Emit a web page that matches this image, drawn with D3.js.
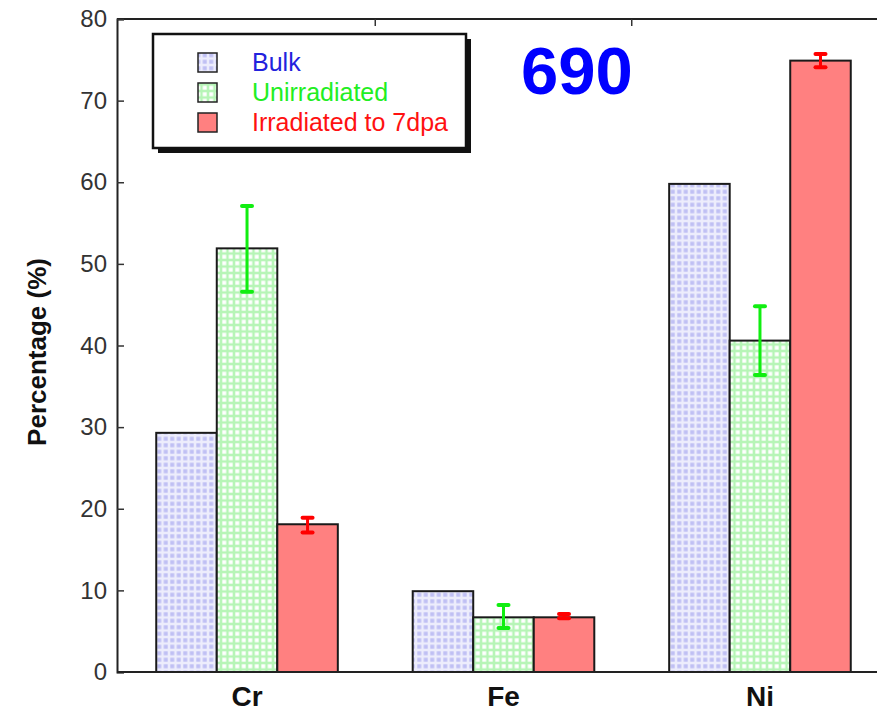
<!DOCTYPE html>
<html>
<head>
<meta charset="utf-8">
<script src="https://cdn.jsdelivr.net/npm/d3@7"></script>
<style>
  html, body { margin: 0; padding: 0; background: #fff; }
  svg { display: block; }
  text { font-family: "Liberation Sans", Arial, sans-serif; }
</style>
</head>
<body>
<div id="chart"></div>
<script>
const categories = ["Cr", "Fe", "Ni"];
const seriesNames = ["Bulk", "Unirradiated", "Irradiated to 7dpa"];
const bulkValues = [29.3, 9.9, 59.8];
const unirradiatedValues = [51.9, 6.7, 40.6];
const irradiatedValues = [18.1, 6.7, 74.9];
const unirradiatedErrLow = [46.6, 5.4, 36.4];
const unirradiatedErrHigh = [57.1, 8.2, 44.8];
const irradiatedErrLow = [17.1, 6.6, 74.1];
const irradiatedErrHigh = [18.9, 7.1, 75.7];
const yTicks = [0, 10, 20, 30, 40, 50, 60, 70, 80];
const labelText = "690";
const yTitle = "Percentage (%)";

(function () {
const W = 877, H = 711;
const mLeft = 117, mTop = 19, mBottom = 672, plotRight = 890;

const svg = d3.select("#chart").append("svg").attr("width", W).attr("height", H);
const defs = svg.append("defs");

const pb = defs.append("pattern").attr("id", "pBulk").attr("patternUnits", "userSpaceOnUse")
  .attr("width", 6.5).attr("height", 6.5);
pb.append("rect").attr("width", 6.5).attr("height", 6.5).attr("fill", "#ededfc");
pb.append("rect").attr("x", 1.25).attr("y", 1.25).attr("width", 4).attr("height", 4).attr("fill", "#c0c0f4");
const pu = defs.append("pattern").attr("id", "pUnirr").attr("patternUnits", "userSpaceOnUse")
  .attr("width", 6.5).attr("height", 6.5);
pu.append("rect").attr("width", 6.5).attr("height", 6.5).attr("fill", "#b6f5b6");
pu.append("rect").attr("x", 1.25).attr("y", 1.25).attr("width", 4).attr("height", 4).attr("fill", "#ffffff");

const fills = ["url(#pBulk)", "url(#pUnirr)", "#ff8080"];
const errColors = [null, "#11ee11", "#ff0000"];

const x0 = d3.scaleBand().domain(categories).range([mLeft, plotRight])
  .paddingInner(0.292).paddingOuter(0.153);
const x1 = d3.scaleBand().domain(seriesNames).range([0, x0.bandwidth()]).padding(0);
const y = d3.scaleLinear().domain([0, 80]).range([mBottom, mTop]);

const seriesValues = [bulkValues, unirradiatedValues, irradiatedValues];
const errLow = [null, unirradiatedErrLow, irradiatedErrLow];
const errHigh = [null, unirradiatedErrHigh, irradiatedErrHigh];

svg.append("line").attr("x1", mLeft).attr("x2", W).attr("y1", mTop).attr("y2", mTop)
  .attr("stroke", "#222").attr("stroke-width", 2);
const boundaries = [x0("Cr") + x0.bandwidth() + (x0.step() - x0.bandwidth()) / 2,
                    x0("Fe") + x0.bandwidth() + (x0.step() - x0.bandwidth()) / 2];
svg.selectAll(".btick").data(boundaries).join("line")
  .attr("x1", d => d).attr("x2", d => d).attr("y1", mTop).attr("y2", mTop + 7)
  .attr("stroke", "#333").attr("stroke-width", 1.5);

seriesNames.forEach((s, si) => {
  svg.append("g").selectAll("rect").data(categories).join("rect")
    .attr("x", c => x0(c) + x1(s))
    .attr("y", (c, i) => y(seriesValues[si][i]))
    .attr("width", x1.bandwidth())
    .attr("height", (c, i) => y(0) - y(seriesValues[si][i]))
    .attr("fill", fills[si])
    .attr("stroke", "#1a1a1a").attr("stroke-width", 2);
});

[1, 2].forEach(si => {
  const s = seriesNames[si];
  const g = svg.append("g").attr("stroke", errColors[si]).attr("stroke-linecap", "round");
  categories.forEach((c, i) => {
    const cx = x0(c) + x1(s) + x1.bandwidth() / 2;
    const y1 = y(errHigh[si][i]), y2 = y(errLow[si][i]);
    g.append("line").attr("x1", cx).attr("x2", cx).attr("y1", y1).attr("y2", y2).attr("stroke-width", 3);
    g.append("line").attr("x1", cx - 5).attr("x2", cx + 5).attr("y1", y1).attr("y2", y1).attr("stroke-width", 4);
    g.append("line").attr("x1", cx - 5).attr("x2", cx + 5).attr("y1", y2).attr("y2", y2).attr("stroke-width", 4);
  });
});

const yAxis = d3.axisLeft(y).tickValues(yTicks).tickSize(-7).tickPadding(10);
const ya = svg.append("g").attr("transform", `translate(${mLeft},0)`).call(yAxis);
ya.select(".domain").attr("stroke", "#222").attr("stroke-width", 2);
ya.selectAll(".tick line").attr("stroke", "#333").attr("stroke-width", 1.5);
ya.selectAll(".tick text").attr("font-size", 24).attr("fill", "#333")
  .attr("font-family", "Liberation Sans, Arial, sans-serif");

svg.append("line").attr("x1", mLeft).attr("x2", W).attr("y1", mBottom).attr("y2", mBottom)
  .attr("stroke", "#222").attr("stroke-width", 2);

const xAxis = d3.axisBottom(x0).tickSize(0).tickPadding(14);
const xa = svg.append("g").attr("transform", `translate(0,${mBottom})`).call(xAxis);
xa.select(".domain").remove();
xa.selectAll(".tick text").attr("font-size", 28).attr("font-weight", "bold").attr("fill", "#111")
  .attr("font-family", "Liberation Sans, Arial, sans-serif");

svg.append("text").attr("transform", "translate(46,352) rotate(-90)")
  .attr("text-anchor", "middle").attr("font-size", 26).attr("font-weight", "bold")
  .attr("fill", "#111").text(yTitle);

const lg = svg.append("g");
lg.append("rect").attr("x", 158).attr("y", 39).attr("width", 313).attr("height", 114).attr("fill", "#111");
lg.append("rect").attr("x", 153).attr("y", 34).attr("width", 313).attr("height", 114)
  .attr("fill", "#fff").attr("stroke", "#111").attr("stroke-width", 2.5);
const legColors = ["#2222dd", "#22ee22", "#ff1111"];
seriesNames.forEach((s, i) => {
  lg.append("rect").attr("x", 198).attr("y", 53 + i * 30).attr("width", 19).attr("height", 19)
    .attr("fill", fills[i]).attr("stroke", "#222").attr("stroke-width", 1.5);
  lg.append("text").attr("x", 252).attr("y", 71 + i * 30).attr("font-size", 25)
    .attr("fill", legColors[i]).text(s);
});

svg.append("text").attr("x", 577).attr("y", 94).attr("text-anchor", "middle")
  .attr("font-size", 67).attr("font-weight", "bold").attr("fill", "#0000ff").text(labelText);
})();
</script>
</body>
</html>
